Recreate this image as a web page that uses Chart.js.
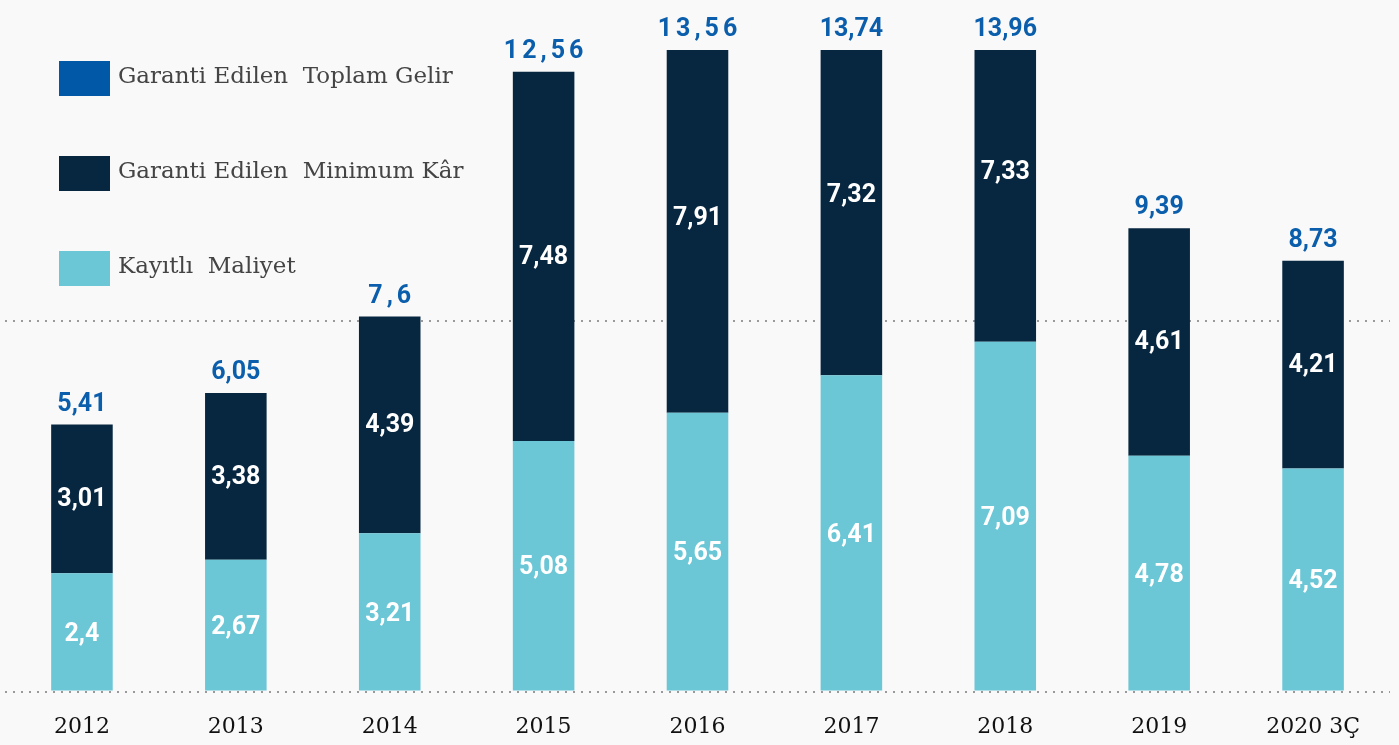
<!DOCTYPE html>
<html><head><meta charset="utf-8">
<script src="https://cdn.jsdelivr.net/npm/chart.js@4/dist/chart.umd.min.js"></script>
<style>html,body{margin:0;padding:0;background:#f9f9f9;}#wrap{width:1399px;height:745px;}</style>
</head><body><div id="wrap"><canvas id="c" width="1399" height="745"></canvas></div>
<script>
const categories = ['2012','2013','2014','2015','2016','2017','2018','2019','2020 3Ç'];
const costValues = [2.4, 2.67, 3.21, 5.08, 5.65, 6.41, 7.09, 4.78, 4.52];
const profitValues = [3.01, 3.38, 4.39, 7.48, 7.91, 7.32, 7.33, 4.61, 4.21];
const totalValues = [5.41, 6.05, 7.6, 12.56, 13.56, 13.74, 13.96, 9.39, 8.73];
const totalLabels = ['5,41','6,05','7,6','12,56','13,56','13,74','13,96','9,39','8,73'];
const costLabels = ['2,4','2,67','3,21','5,08','5,65','6,41','7,09','4,78','4,52'];
const profitLabels = ['3,01','3,38','4,39','7,48','7,91','7,32','7,33','4,61','4,21'];
const gridValues = [0, 7.5];
const spacedTotals = [2,3,4];
const legendNames = ['Garanti Edilen  Toplam Gelir','Garanti Edilen  Minimum Kâr','Kayıtlı  Maliyet'];

const C_BLUE='#0058a6', C_NAVY='#072640', C_CYAN='#6bc6d6', C_TOTAL='#0a5eab';

const labelPlugin = {
  id:'labels',
  afterDatasetsDraw(chart){
    const ctx = chart.ctx, y = chart.scales.y, area = chart.chartArea;
    const m0 = chart.getDatasetMeta(0);
    ctx.save();
    ctx.textAlign='center'; ctx.textBaseline='middle';
    m0.data.forEach((bar,i)=>{
      const x = bar.x;
      const yBase = y.getPixelForValue(0);
      const yCost = y.getPixelForValue(costValues[i]);
      const yTot = y.getPixelForValue(totalValues[i]);
      ctx.fillStyle='#ffffff';
      ctx.font='bold 25px Roboto';
      ctx.letterSpacing='0px';
      ctx.fillText(costLabels[i], x, (yBase+yCost)/2+2);
      ctx.fillText(profitLabels[i], x, (yCost+yTot)/2+1);
      ctx.fillStyle=C_TOTAL;
      ctx.letterSpacing = spacedTotals.includes(i) ? '4px' : '0px';
      const top = Math.max(yTot, area.top);
      ctx.fillText(totalLabels[i], x + (spacedTotals.includes(i)?2:0), top-20);
    });
    ctx.letterSpacing='0px';
    const colors=[C_BLUE,C_NAVY,C_CYAN];
    ctx.textAlign='left';
    legendNames.forEach((n,k)=>{
      const ly = 61 + k*95;
      ctx.fillStyle=colors[k];
      ctx.fillRect(59, ly, 51, 35);
      ctx.fillStyle='#444444';
      ctx.font='23px "DejaVu Serif"';
      ctx.fillText(n, 118, ly+16);
    });
    ctx.restore();
  }
};

const bgPlugin = {
  id:'bg',
  beforeDraw(chart){const c=chart.ctx;c.save();c.fillStyle='#f9f9f9';c.fillRect(0,0,chart.width,chart.height);c.restore();}
};

new Chart(document.getElementById('c'),{
  type:'bar',
  data:{labels:categories,datasets:[
    {label:'Kayıtlı Maliyet',data:costValues,backgroundColor:C_CYAN,barPercentage:0.4,categoryPercentage:1},
    {label:'Garanti Edilen Minimum Kâr',data:totalValues.map((t,i)=>+(t-costValues[i]).toFixed(2)),backgroundColor:C_NAVY,barPercentage:0.4,categoryPercentage:1}
  ]},
  options:{
    responsive:false,animation:false,
    layout:{padding:{left:5,right:9,top:50,bottom:-9}},
    plugins:{legend:{display:false},tooltip:{enabled:false}},
    scales:{
      x:{stacked:true,grid:{display:false},border:{display:false},
         ticks:{color:'#111',font:{family:'DejaVu Serif',size:22},padding:14}},
      y:{stacked:true,min:0,max:13,
         afterBuildTicks(ax){ax.ticks=gridValues.map(v=>({value:v}));},
         ticks:{display:false},
         grid:{color:'#9a9a9a',lineWidth:2,tickLength:0,drawTicks:false},
         border:{display:false,dash:[2,6]}}
    }
  },
  plugins:[bgPlugin,labelPlugin]
});
</script></body></html>
